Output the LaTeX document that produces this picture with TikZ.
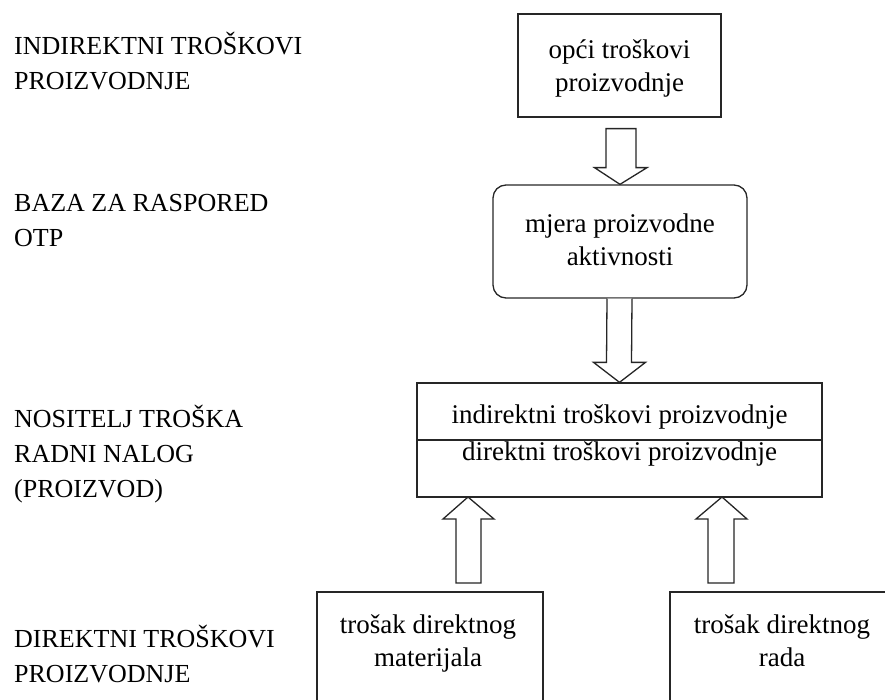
\documentclass[tikz,border=0pt]{standalone}
\usepackage{fontspec}
\setmainfont{Liberation Serif}
\usetikzlibrary{calc}
\begin{document}
\begin{tikzpicture}[x=1pt,y=-1pt,
  lbl/.style={anchor=west,align=left,inner sep=0pt,font=\fontsize{26}{35}\selectfont},
  boxtxt/.style={align=center,inner sep=0pt,font=\fontsize{27}{33}\selectfont},
  plainbox/.style={draw=black!85,line width=1.3pt,inner sep=0pt},
  hollow/.style={draw=black!85,line width=1.3pt,fill=white,line join=miter}
]
\useasboundingbox (0,0) rectangle (885,700);
\begin{scope}
\clip (0,0) rectangle (885,700);
% left labels
\node[lbl] (l1) at (14,61.5) {INDIREKTNI TROŠKOVI\\PROIZVODNJE};
\node[lbl] (l2) at (14,220.5) {BAZA ZA RASPORED\\OTP};
\node[lbl] (l3) at (14,454) {NOSITELJ TROŠKA\\RADNI NALOG\\(PROIZVOD)};
\node[lbl] (l4) at (14,654) {DIREKTNI TROŠKOVI\\PROIZVODNJE};
% boxes
\node[plainbox,minimum width=203pt,minimum height=103pt] (opci) at (619.5,65.5) {};
\node[boxtxt] (opcit) at (619.5,68) {opći troškovi\\proizvodnje};
\node[plainbox,rounded corners=13pt,minimum width=254pt,minimum height=113pt] (mjera) at (620,241.5) {};
\node[boxtxt] (mjerat) at (620,240) {mjera proizvodne\\aktivnosti};
\node[plainbox,minimum width=405pt,minimum height=114pt] (nos) at (619.5,440) {};
\draw[draw=black!85,line width=1.3pt] (nos.west) -- (nos.east);
\node[boxtxt] (ind) at (619.5,417) {indirektni troškovi proizvodnje};
\node[boxtxt] (dir) at (619.5,454) {direktni troškovi proizvodnje};
\node[plainbox,minimum width=226pt,minimum height=140pt] (mat) at (430,662) {};
\node[boxtxt] (matt) at (428,643) {trošak direktnog\\materijala};
\node[plainbox,minimum width=226pt,minimum height=140pt] (rad) at (783,662) {};
\node[boxtxt] (radt) at (782,641) {trošak direktnog\\rada};
% hollow arrows
\draw[hollow] ($(opci.south)+(-13.5,11)$) -- ($(opci.south)+(-13.5,50)$) -- ($(opci.south)+(-25,50)$)
  -- (mjera.north) -- ($(opci.south)+(27.5,50)$) -- ($(opci.south)+(16.5,50)$) -- ($(opci.south)+(16.5,11)$) -- cycle;
\draw[hollow] ($(mjera.south)+(-13,0)$) -- ($(nos.north)+(-13,-20)$) -- ($(nos.north)+(-26,-20)$)
  -- (nos.north) -- ($(nos.north)+(26,-20)$) -- ($(nos.north)+(12,-20)$) -- ($(mjera.south)+(12,0)$);
\coordinate (t3) at (468,497);
\coordinate (t4) at (722,497);
\draw[hollow] ($(t3)+(-12,86)$) -- ($(t3)+(-12,22)$) -- ($(t3)+(-25,22)$) -- (t3)
  -- ($(t3)+(26,22)$) -- ($(t3)+(13,22)$) -- ($(t3)+(13,86)$) -- cycle;
\draw[hollow] ($(t4)+(-14,86)$) -- ($(t4)+(-14,22)$) -- ($(t4)+(-26,22)$) -- (t4)
  -- ($(t4)+(25,22)$) -- ($(t4)+(12,22)$) -- ($(t4)+(12,86)$) -- cycle;
\end{scope}
\end{tikzpicture}
\end{document}
